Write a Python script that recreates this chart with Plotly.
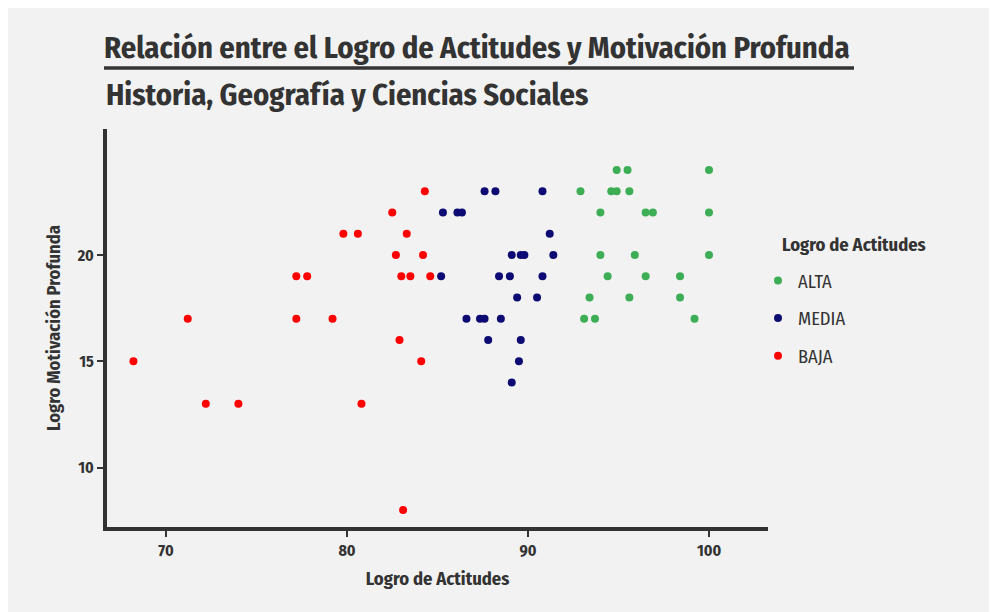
import plotly.graph_objects as go

# datos
alta_x = [94.9, 95.5, 100.0, 92.9, 94.6, 94.9, 95.6, 94.0, 96.5, 96.9, 100.0,
          94.0, 95.9, 100.0, 94.4, 96.5, 98.4, 93.4, 95.6, 98.4, 93.1, 93.7, 99.2]
alta_y = [24, 24, 24, 23, 23, 23, 23, 22, 22, 22, 22,
          20, 20, 20, 19, 19, 19, 18, 18, 18, 17, 17, 17]

media_x = [87.6, 88.2, 90.8, 85.3, 86.1, 86.35, 91.2, 89.1, 89.6, 89.8, 91.4,
           85.2, 88.4, 89.0, 90.8, 89.4, 90.5, 86.6, 87.35, 87.6, 88.5, 87.8,
           89.6, 89.5, 89.1]
media_y = [23, 23, 23, 22, 22, 22, 21, 20, 20, 20, 20,
           19, 19, 19, 19, 18, 18, 17, 17, 17, 17, 16,
           16, 15, 14]

baja_x = [68.2, 71.2, 72.2, 74.0, 77.2, 77.8, 77.2, 79.2, 79.8, 80.6, 80.8,
          82.5, 82.7, 83.0, 83.3, 83.5, 82.9, 83.1, 84.3, 84.2, 84.6, 84.1]
baja_y = [15, 17, 13, 13, 19, 19, 17, 17, 21, 21, 13,
          22, 20, 19, 21, 19, 16, 8, 23, 20, 19, 15]

grupos = ["ALTA", "MEDIA", "BAJA"]
colores = ["#3DAE55", "#0D0B73", "#FF0000"]
datos = [(alta_x, alta_y), (media_x, media_y), (baja_x, baja_y)]

FONT = "Fira Sans Condensed, Roboto Condensed, Liberation Sans Narrow, Roboto, sans-serif"
GRIS = "#333333"

# tamano de la figura y area del grafico (px)
W, H = 989, 604
L, R, T, B = 99, 760, 121, 519


def px_x(p):
    return (p - L) / (R - L)


def px_y(p):
    return (B - p) / (B - T)


fig = go.Figure()
for nombre, col, (xs, ys) in zip(grupos, colores, datos):
    fig.add_trace(go.Scatter(x=xs, y=ys, mode="markers", name=nombre,
                             legendgroup=nombre,
                             marker=dict(color=col, size=8)))

fig.update_layout(
    width=W, height=H,
    paper_bgcolor="#F2F2F2",
    plot_bgcolor="#F2F2F2",
    font=dict(family=FONT, color=GRIS),
    margin=dict(l=L, r=W - R, t=T, b=H - B),
    title=dict(text="<b>Relación entre el Logro de Actitudes y Motivación Profunda</b>",
               xref="container", x=96 / W, xanchor="left",
               yref="container", y=1 - 39 / H, yanchor="middle",
               font=dict(size=30.5, color=GRIS)),
    showlegend=True,
    legend=dict(font=dict(size=18.5), x=px_x(750), xanchor="left",
                y=px_y(254), yanchor="top",
                tracegroupgap=10.5, bgcolor="rgba(0,0,0,0)"),
    xaxis=dict(range=[66.74, 103.26], showgrid=False, zeroline=False,
               showline=True, linecolor=GRIS, linewidth=4,
               ticks="outside", ticklen=6, tickwidth=2, tickcolor=GRIS,
               tickvals=[70, 80, 90, 100],
               tickfont=dict(size=16, color=GRIS, weight="bold"),
               title=dict(text="<b>Logro de Actitudes</b>", font=dict(size=18.5), standoff=14)),
    yaxis=dict(range=[7.206, 25.93], showgrid=False, zeroline=False,
               showline=True, linecolor=GRIS, linewidth=4,
               ticks="outside", ticklen=6, tickwidth=2, tickcolor=GRIS,
               tickvals=[10, 15, 20],
               tickfont=dict(size=16, color=GRIS, weight="bold"),
               title=dict(text="<b>Logro Motivación Profunda</b>", font=dict(size=18.5), standoff=12)),
)

# linea bajo el titulo
fig.add_shape(type="line", xref="paper", yref="paper",
              x0=px_x(96), x1=px_x(846), y0=px_y(60), y1=px_y(60),
              line=dict(color=GRIS, width=3.5))

fig.add_annotation(text="<b>Historia, Geografía y Ciencias Sociales</b>",
                   xref="paper", yref="paper", x=px_x(96), xanchor="left",
                   y=px_y(87), yanchor="middle", showarrow=False,
                   font=dict(size=30.5, color=GRIS))

# titulo de la leyenda
fig.add_annotation(text="<b>Logro de Actitudes</b>",
                   xref="paper", yref="paper", x=px_x(772), xanchor="left",
                   y=px_y(237), yanchor="middle", showarrow=False,
                   font=dict(size=18.5, color=GRIS))

fig.write_html("out.html")
